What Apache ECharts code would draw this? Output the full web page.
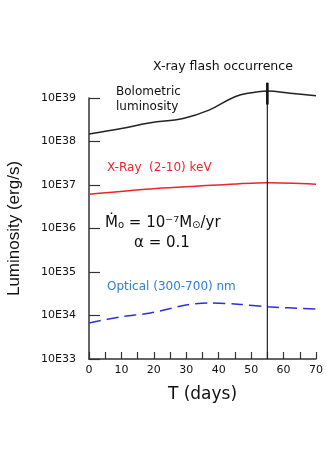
<!DOCTYPE html>
<html>
<head>
<meta charset="utf-8">
<script src="https://cdn.jsdelivr.net/npm/echarts@6/dist/echarts.min.js"></script>
<style>
  html, body { margin: 0; padding: 0; background: #fff; }
  #chart { width: 327px; height: 463px; }
</style>
</head>
<body>
<div id="chart"></div>
<script>
// log10 of luminosity (erg/s)
const boloDays = [0, 10, 19, 29, 37, 45, 50, 55, 62, 70];
const boloLog = [38.17, 38.30, 38.43, 38.53, 38.72, 39.03, 39.12, 39.16, 39.11, 39.05];
const xrayDays = [0, 19, 40, 55, 70];
const xrayLog = [36.79, 36.91, 37.0, 37.05, 37.02];
const optDays = [0, 10, 19, 30, 37, 46, 55, 70];
const optLog = [33.83, 33.97, 34.06, 34.24, 34.29, 34.26, 34.20, 34.15];
const flashDay = 55;
const flashLine = [33, 39.35];
const flashThick = [38.85, 39.35];
const yTicks = [33, 34, 35, 36, 37, 38, 39];

const pair = (xs, ys) => xs.map((x, i) => [x, ys[i]]);

const chart = echarts.init(document.getElementById('chart'));
const font = '"DejaVu Sans", sans-serif';

chart.setOption({
  animation: false,
  grid: { left: 89, right: 11, top: 98, bottom: 104, containLabel: false, outerBoundsMode: 'none' },
  xAxis: {
    type: 'value', min: 0, max: 70, interval: 5,
    name: 'T (days)', nameLocation: 'middle', nameGap: 27,
    nameTextStyle: { fontFamily: font, fontSize: 17, color: '#111' },
    axisLine: { lineStyle: { color: '#333', width: 1.5 } },
    axisTick: { inside: true, length: 7, lineStyle: { color: '#333', width: 1.2 } },
    axisLabel: {
      fontFamily: font, fontSize: 11, color: '#111', margin: 6,
      formatter: v => (v % 10 === 0 ? String(v) : '')
    },
    splitLine: { show: false }
  },
  yAxis: {
    type: 'value', min: yTicks[0], max: yTicks[yTicks.length - 1], interval: 1,
    name: 'Luminosity (erg/s)', nameLocation: 'middle', nameGap: 66, nameRotate: 90,
    nameTextStyle: { fontFamily: '"Liberation Sans", sans-serif', fontSize: 17, color: '#111' },
    axisLine: { show: true, lineStyle: { color: '#333', width: 1.5 } },
    axisTick: { show: true, inside: true, length: 11, lineStyle: { color: '#333', width: 1.2 } },
    axisLabel: {
      fontFamily: font, fontSize: 11, color: '#111', margin: 13,
      formatter: v => '10E' + v
    },
    splitLine: { show: false }
  },
  series: [
    {
      type: 'line', data: pair(boloDays, boloLog), smooth: 0.4, symbol: 'none', clip: false,
      lineStyle: { color: '#222', width: 1.5 }
    },
    {
      type: 'line', data: pair(xrayDays, xrayLog), smooth: 0.3, symbol: 'none', clip: false,
      lineStyle: { color: '#e8262b', width: 1.5 }
    },
    {
      type: 'line', data: pair(optDays, optLog), smooth: 0.3, symbol: 'none', clip: false,
      lineStyle: { color: '#2b2fe0', width: 1.5, type: [12, 6] }
    },
    {
      type: 'line', data: flashLine.map(v => [flashDay, v]), symbol: 'none', clip: false,
      lineStyle: { color: '#222', width: 1.2 }
    },
    {
      type: 'line', data: flashThick.map(v => [flashDay, v]), symbol: 'none', clip: false,
      lineStyle: { color: '#111', width: 2.6 }
    }
  ],
  graphic: [
    { type: 'text', left: 153, top: 60, style: { text: 'X-ray flash occurrence', font: '12.5px ' + font, fill: '#111' } },
    { type: 'text', left: 116, top: 84, style: { text: 'Bolometric\nluminosity', font: '12px ' + font, fill: '#111', lineHeight: 15, align: 'left' } },
    { type: 'text', left: 107, top: 162, style: { text: 'X-Ray  (2-10) keV', font: '12px ' + font, fill: '#e8262b' } },
    {
      type: 'text', left: 105, top: 216,
      style: {
        text: '{m|Ṁ}{s|o}{m| = 10⁻⁷M}{s|⊙}{m|/yr}',
        rich: {
          m: { fontFamily: font, fontSize: 15, fill: '#111', verticalAlign: 'bottom', height: 18 },
          s: { fontFamily: font, fontSize: 10, fill: '#111', verticalAlign: 'bottom', height: 14 }
        }
      }
    },
    { type: 'text', left: 134, top: 236, style: { text: 'α = 0.1', font: '15px ' + font, fill: '#111' } },
    { type: 'text', left: 107, top: 281, style: { text: 'Optical (300-700) nm', font: '12px ' + font, fill: '#2e7fd0' } }
  ]
});
</script>
</body>
</html>
